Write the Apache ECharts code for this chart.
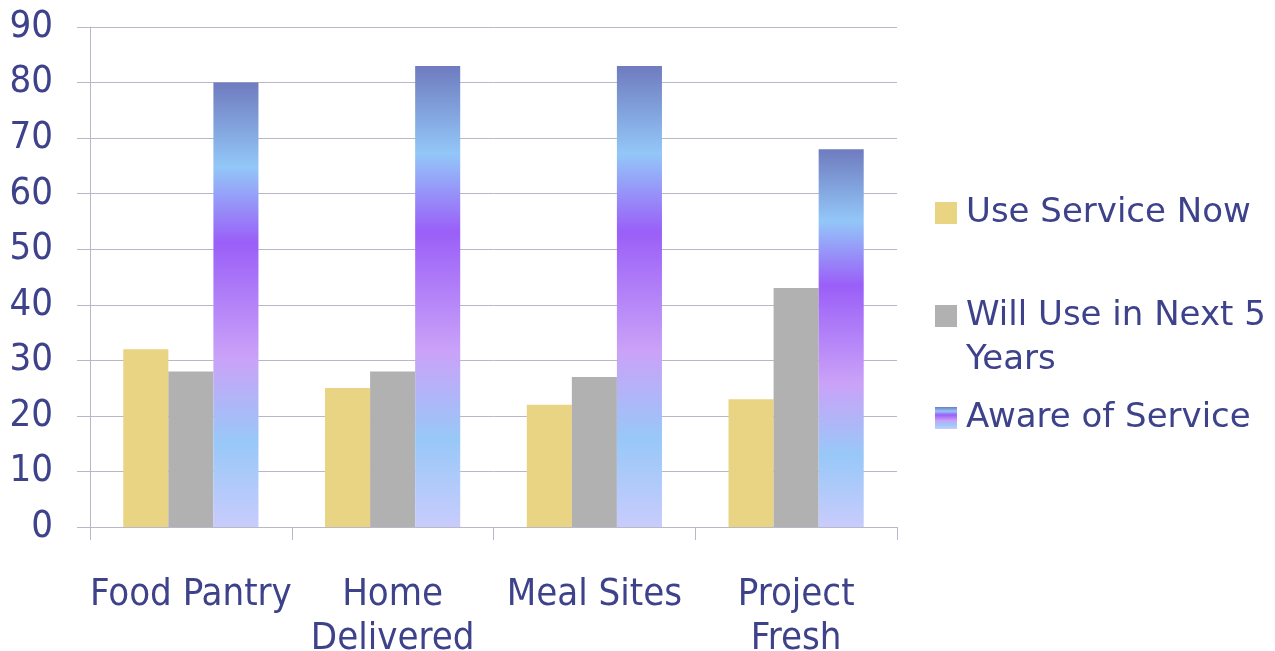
<!DOCTYPE html>
<html>
<head>
<meta charset="utf-8">
<script src="https://cdn.jsdelivr.net/npm/echarts@6/dist/echarts.min.js"></script>
<style>
  html, body { margin: 0; padding: 0; background: #ffffff; }
  #chart { width: 1275px; height: 651px; }
</style>
</head>
<body>
<div id="chart"></div>
<script>
// Service usage survey: current use, expected use, awareness (percent)
const categories = ['Food Pantry', 'Home\nDelivered', 'Meal Sites', 'Project\nFresh'];
const useNow = [32, 25, 22, 23];
const willUse = [28, 28, 27, 43];
const aware = [80, 83, 83, 68];
const yTicks = { min: 0, max: 90, step: 10 };

const seriesNames = ['Use Service Now', 'Will Use in Next 5 Years', 'Aware of Service'];

const FONT = '"DejaVu Sans Condensed", "DejaVu Sans", sans-serif';
const LEGEND_FONT = '"DejaVu Sans", sans-serif';
const TEXT = '#3d428b';
const GRID_LINE = '#b8b8c8';

const awareGradient = new echarts.graphic.LinearGradient(0, 0, 0, 1, [
  { offset: 0.00, color: '#6f7bbf' },
  { offset: 0.19, color: '#93c7f8' },
  { offset: 0.36, color: '#9a5ff8' },
  { offset: 0.62, color: '#caa2f8' },
  { offset: 0.81, color: '#98c8f8' },
  { offset: 1.00, color: '#c8ccfc' }
]);

const legendText = {
  fontFamily: LEGEND_FONT,
  fontSize: 34,
  lineHeight: 44,
  color: TEXT
};

// square swatch with a little room on its right before the label
const squareIcon = 'path://M0,0h22v22h-22zM26,22h0.01';
// square swatch beside the first of two text lines
const tallSquareIcon = 'path://M0,0h0.01M0,11h22v22h-22zM26,88h0.01';

const chart = echarts.init(document.getElementById('chart'), null, { renderer: 'canvas' });

chart.setOption({
  backgroundColor: '#ffffff',
  animation: false,
  grid: { left: 90, right: 378, top: 27, bottom: 124, outerBoundsMode: 'none', containLabel: false },
  legend: [
    {
      data: [{ name: seriesNames[0], icon: squareIcon }],
      left: 935, top: 191, padding: 0,
      itemWidth: 26, itemHeight: 22, itemGap: 0,
      textStyle: legendText
    },
    {
      data: [{ name: seriesNames[1], icon: tallSquareIcon }],
      left: 935, top: 294, padding: 0,
      itemWidth: 26, itemHeight: 88, itemGap: 0,
      formatter: () => 'Will Use in Next 5\nYears',
      textStyle: legendText
    },
    {
      data: [{ name: seriesNames[2], icon: squareIcon }],
      left: 935, top: 396, padding: 0,
      itemWidth: 26, itemHeight: 22, itemGap: 0,
      textStyle: legendText
    }
  ],
  xAxis: {
    type: 'category',
    data: categories,
    boundaryGap: true,
    axisLine: { show: true, lineStyle: { color: GRID_LINE, width: 1 } },
    axisTick: { show: true, length: 13, lineStyle: { color: GRID_LINE } },
    axisLabel: {
      interval: 0,
      margin: 46,
      fontFamily: FONT,
      fontSize: 38,
      lineHeight: 44,
      color: TEXT
    }
  },
  yAxis: {
    type: 'value',
    min: yTicks.min,
    max: yTicks.max,
    interval: yTicks.step,
    axisLine: { show: true, lineStyle: { color: GRID_LINE, width: 1 } },
    axisTick: { show: true, length: 13, lineStyle: { color: GRID_LINE } },
    splitLine: { show: true, lineStyle: { color: GRID_LINE, width: 1 } },
    axisLabel: {
      margin: 37,
      fontFamily: FONT,
      fontSize: 38,
      color: TEXT
    }
  },
  series: [
    {
      name: seriesNames[0], type: 'bar', data: useNow,
      barGap: '0%', barCategoryGap: '33%',
      itemStyle: { color: '#e8d482' }
    },
    {
      name: seriesNames[1], type: 'bar', data: willUse,
      barGap: '0%', barCategoryGap: '33%',
      itemStyle: { color: '#b1b1b1' }
    },
    {
      name: seriesNames[2], type: 'bar', data: aware,
      barGap: '0%', barCategoryGap: '33%',
      itemStyle: { color: awareGradient }
    }
  ]
});
</script>
</body>
</html>
